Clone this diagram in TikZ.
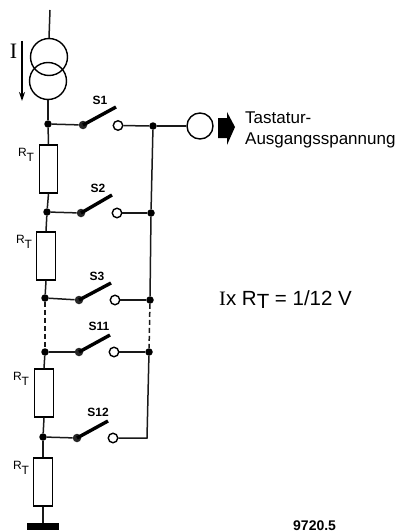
\documentclass[tikz,border=0pt]{standalone}
\usepackage{fontspec}
\setmainfont{Liberation Sans}
\newfontfamily\slabfont{Liberation Serif}
\usetikzlibrary{arrows.meta}
\tikzset{
  x=1pt,y=-1pt,
  wire/.style={line width=1.5pt,black!90},
  dotted wire/.style={wire,dash pattern=on 5pt off 3pt},
  junc/.style={circle,fill=black,inner sep=0pt,minimum size=7.5pt},
  pivot/.style={circle,fill=black!85,inner sep=0pt,minimum size=8.5pt},
  openc/.style={circle,draw=black,line width=1.4pt,fill=white,inner sep=0pt,minimum size=9.5pt},
  res/.style={rectangle,draw=black,line width=1.4pt,fill=white,inner sep=0pt,minimum width=18.5pt,minimum height=48pt},
  src/.style={circle,draw=black,line width=1.4pt,inner sep=0pt,minimum size=37pt},
  arm/.style={line width=3.4pt,black,line cap=butt},
  slab/.style={font=\fontsize{12}{12}\selectfont\bfseries,inner sep=0pt},
  rlab/.style={font=\fontsize{12}{12}\selectfont,inner sep=0pt},
  txt/.style={font=\fontsize{17}{21}\selectfont,inner sep=0pt,anchor=base west}
}
\newcommand{\RTlab}{R\raisebox{-4.5pt}{T}}
\begin{document}
\begin{tikzpicture}
\useasboundingbox (0,0) rectangle (398,532);
% source
\node[src] (s1) at (49,57) {};
\node[src] (s2) at (48,81) {};
\coordinate (top) at (50,10);
\draw[wire] (top) -- (s1.north);
% ladder junctions
\node[junc] (j1) at (48,124) {};
\node[junc] (j2) at (47,212) {};
\node[junc] (j3) at (45,298) {};
\node[junc] (j11) at (45,352) {};
\node[junc] (j12) at (43,437) {};
\node[res] (r1) at (48.5,169) {};
\node[res] (r2) at (46,256) {};
\node[res] (r3) at (44,393) {};
\node[res] (r4) at (43,482) {};
\node[rectangle,fill=black,inner sep=0pt,minimum width=32pt,minimum height=7pt] (gnd) at (43,526.5) {};
\draw[wire] (s2.south) -- (j1);
\draw[wire] (j1) -- (r1.north);
\draw[wire] (r1.south) -- (j2);
\draw[wire] (j2) -- (r2.north);
\draw[wire] (r2.south) -- (j3);
\draw[dotted wire] (j3) -- (j11);
\draw[wire] (j11) -- (r3.north);
\draw[wire] (r3.south) -- (j12);
\draw[wire] (j12) -- (r4.north);
\draw[wire] (r4.south) -- (gnd.north);
% switches
\node[pivot] (p1) at (83,125) {};
\node[pivot] (p2) at (81,213) {};
\node[pivot] (p3) at (79,300) {};
\node[pivot] (p11) at (79,352) {};
\node[pivot] (p12) at (77,438) {};
\coordinate (a1) at (116,107);
\coordinate (a2) at (112,195);
\coordinate (a3) at (111,283);
\coordinate (a11) at (110,335);
\coordinate (a12) at (108,421);
\node[openc] (o1) at (118,125.5) {};
\node[openc] (o2) at (117,213) {};
\node[openc] (o3) at (115,300) {};
\node[openc] (o11) at (114,352) {};
\node[openc] (o12) at (113,438) {};
\node[junc] (k1) at (153,126) {};
\node[junc] (k2) at (151,213) {};
\node[junc] (k3) at (150,300) {};
\node[junc] (k11) at (149,352) {};
\coordinate (k12) at (147,438);
\foreach \i in {1,2,3,11,12}{
  \draw[wire] (j\i) -- (p\i);
  \draw[arm] (p\i.center) -- (a\i);
}
\foreach \i in {1,2,3,11}{\draw[wire] (o\i) -- (k\i);}
\draw[wire] (o12) -- (k12) -- (k11);
\draw[wire] (k1) -- (k2);
\draw[wire] (k2) -- (k3);
\draw[dotted wire] (k3) -- (k11);
% output
\node[circle,draw=black,line width=1.4pt,inner sep=0pt,minimum size=26pt] (out) at (200,126) {};
\draw[wire] (k1) -- (out);
\fill[black] (218,118) -- (227,118) -- (227,112) -- (235,127) -- (227,145) -- (227,138) -- (218,138) -- cycle;
% current arrow
\coordinate (ia) at (22,41);
\coordinate (ib) at (22,101);
\draw[line width=1.2pt,-{Stealth[length=9pt,width=6pt]}] (ia) -- (ib);
\node[inner sep=0pt,font=\fontsize{22}{22}\selectfont\slabfont] (il) at (13.5,51) {I};
% labels
\node[slab] (l1) at (100,100) {S1};
\node[slab] (l2) at (98,188) {S2};
\node[slab] (l3) at (97,276) {S3};
\node[slab] (l11) at (99,326) {S11};
\node[slab] (l12) at (98,412) {S12};
\node[rlab] (q1) at (26,155) {\RTlab};
\node[rlab] (q2) at (24,242) {\RTlab};
\node[rlab] (q3) at (21,379) {\RTlab};
\node[rlab] (q4) at (21,468) {\RTlab};
\node[txt] (t1) at (245,123) {Tastatur-};
\node[txt] (t2) at (245,144) {Ausgangsspannung};
\node[inner sep=0pt,anchor=base west,font=\fontsize{20.5}{20.5}\selectfont] (f) at (219,305)
  {{\slabfont I}x R\raisebox{-3pt}{T} = 1/12 V};
\node[inner sep=0pt,anchor=base west,font=\fontsize{14}{14}\selectfont\bfseries] (n) at (293,530) {9720.5};
\end{tikzpicture}
\end{document}
